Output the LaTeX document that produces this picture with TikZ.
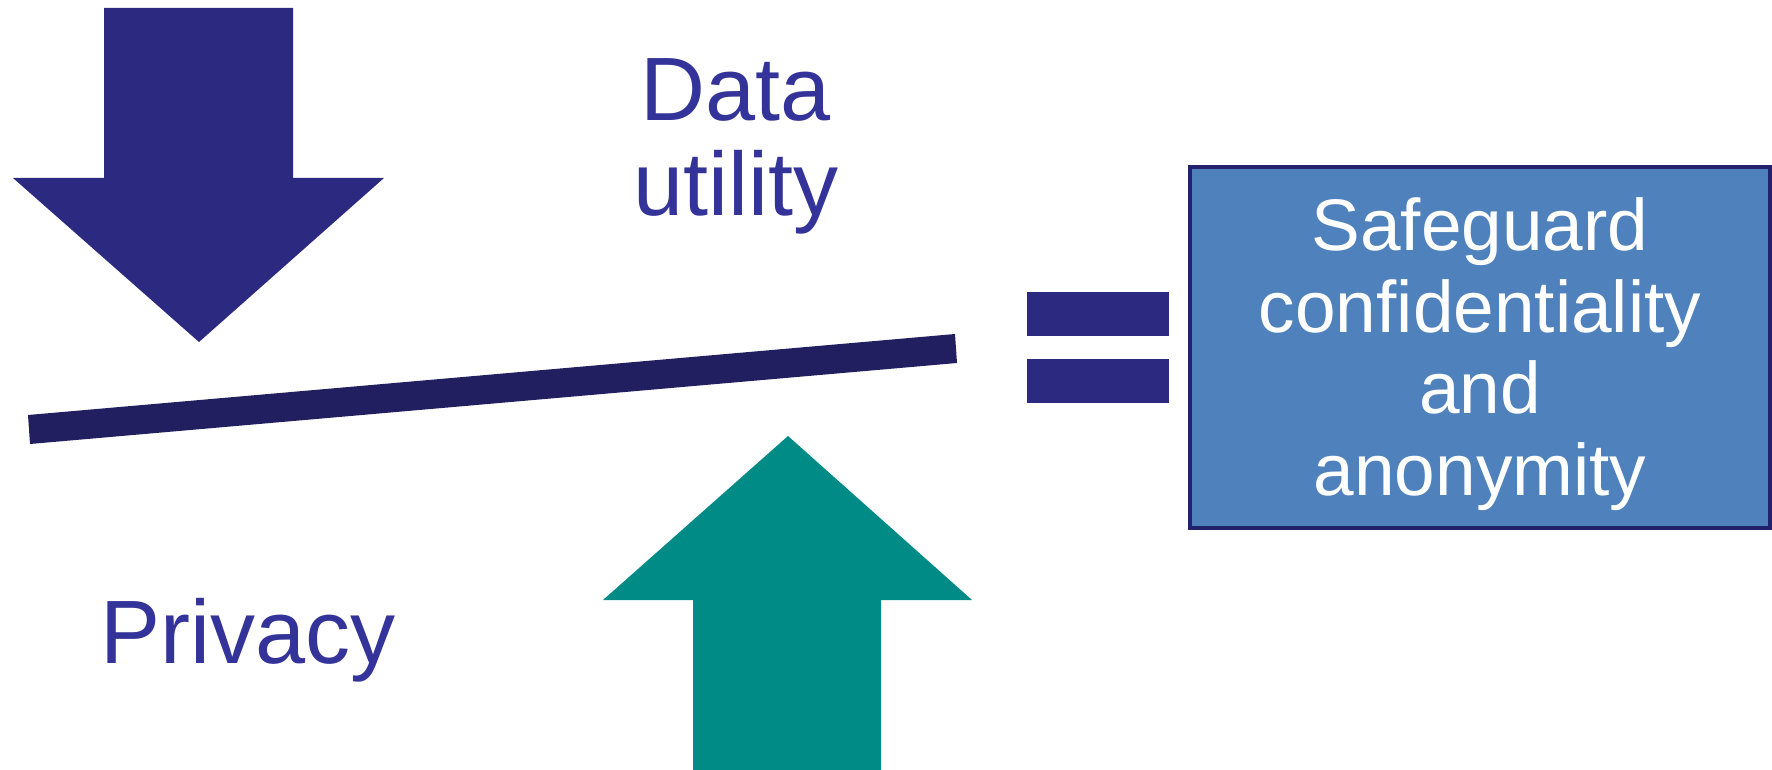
\documentclass[tikz,border=0pt]{standalone}
\usepackage{fontspec}
\setmainfont{Liberation Sans}
\definecolor{arrownavy}{HTML}{2B2A80}
\definecolor{beamnavy}{HTML}{211F5F}
\definecolor{liftteal}{HTML}{008B87}
\definecolor{boxblue}{HTML}{4F81BD}
\definecolor{boxedge}{HTML}{22216B}
\definecolor{labelnavy}{HTML}{333399}
\tikzset{
  bigarrow/.style={fill=#1, draw=none},
  eqbar/.style={fill=arrownavy, draw=none},
  sidelabel/.style={text=labelnavy, font=\fontsize{90}{95}\selectfont, inner sep=0pt, align=center},
  resultbox/.style={fill=boxblue, draw=boxedge, line width=4pt, text=white,
    font=\fontsize{73}{81.5}\selectfont, align=center, inner sep=0pt}
}
\begin{document}
\begin{tikzpicture}[x=1pt,y=-1pt]
\useasboundingbox (0,0) rectangle (1772,770);

% downward pressure arrow
\fill[bigarrow=arrownavy] (104,8) -- (293,8) -- (293,178) -- (384,178) -- (199,342)
  -- (13,178) -- (104,178) -- cycle;

% upward lifting arrow
\fill[bigarrow=liftteal] (693,770) -- (693,600) -- (603,600) -- (788,436)
  -- (972,600) -- (881,600) -- (881,770) -- cycle;

% tilted balance beam
\fill[beamnavy] (28,415) -- (955,334) -- (957,363) -- (30,444) -- cycle;

% equals sign
\fill[eqbar] (1027,292) rectangle (1169,336);
\fill[eqbar] (1027,359) rectangle (1169,403);

% outcome box
\draw[resultbox] (1190,167) rectangle (1770,528);
\node[resultbox, draw=none, fill=none] (outcome) at (1480,354)
  {Safeguard\\confidentiality\\and\\anonymity};

% labels
\node[sidelabel] (utility) at (736,146) {Data\\utility};
\node[sidelabel, anchor=base west] (privacy) at (100,663) {Privacy};
\end{tikzpicture}
\end{document}
